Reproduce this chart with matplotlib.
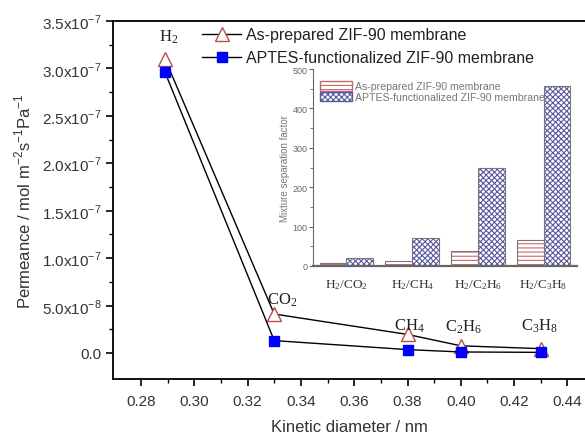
import matplotlib
matplotlib.use("Agg")
import matplotlib.pyplot as plt
from matplotlib.patches import Patch
import numpy as np

# main plot data: kinetic diameter (nm) vs permeance
gases = ["H_2", "CO_2", "CH_4", "C_2H_6", "C_3H_8"]
diameter = [0.289, 0.33, 0.38, 0.40, 0.43]
perm_asprep = [3.10e-7, 4.1e-8, 1.95e-8, 7.5e-9, 4.5e-9]
perm_aptes = [2.96e-7, 1.3e-8, 3.5e-9, 1.0e-9, 0.6e-9]
gas_label_xy = [(0.2905, 3.34e-7), (0.3329, 5.7e-8), (0.3807, 2.9e-8),
                (0.4009, 2.76e-8), (0.4295, 2.9e-8)]

y_ticks = [0.0, 5.0e-8, 1.0e-7, 1.5e-7, 2.0e-7, 2.5e-7, 3.0e-7, 3.5e-7]
y_ticklabels = ["0.0", r"5.0x10$^{\mathregular{-8}}$", r"1.0x10$^{\mathregular{-7}}$",
                r"1.5x10$^{\mathregular{-7}}$", r"2.0x10$^{\mathregular{-7}}$",
                r"2.5x10$^{\mathregular{-7}}$", r"3.0x10$^{\mathregular{-7}}$",
                r"3.5x10$^{\mathregular{-7}}$"]
x_ticks = [0.28, 0.30, 0.32, 0.34, 0.36, 0.38, 0.40, 0.42, 0.44]

# inset data: mixture separation factors
pairs = [r"$\mathregular{H_2/CO_2}$", r"$\mathregular{H_2/CH_4}$",
         r"$\mathregular{H_2/C_2H_6}$", r"$\mathregular{H_2/C_3H_8}$"]
sep_asprep = [7, 13, 38, 65]
sep_aptes = [20, 70, 250, 458]

plt.rcParams["font.family"] = ["Liberation Sans", "DejaVu Sans"]
plt.rcParams["hatch.linewidth"] = 0.8

fig = plt.figure(figsize=(5.85, 4.35), dpi=100)
ax = fig.add_axes([113 / 585, 55 / 435, 1 - 113 / 585, 358 / 435])

ax.plot(diameter, perm_asprep, color="black", lw=1.0, marker="^", ms=10,
        mfc="white", mec="#b5524a", mew=1.0, label="As-prepared ZIF-90 membrane", zorder=3)
ax.plot(diameter, perm_aptes, color="black", lw=1.0, marker="s", ms=7,
        mfc="#0000ff", mec="#0000ff", label="APTES-functionalized ZIF-90 membrane", zorder=3)

for g, (gx, gy) in zip(gases, gas_label_xy):
    ax.text(gx, gy, r"$\mathregular{" + g + "}$", family="Liberation Serif",
            fontsize=12, ha="center", va="center", color="#222222")

ax.set_xlim(0.2695, 0.4466)
ax.set_ylim(-2.75e-8, 3.5e-7)
ax.set_xticks(x_ticks)
ax.set_xticklabels(["%.2f" % t for t in x_ticks])
ax.set_yticks(y_ticks)
ax.set_yticklabels(y_ticklabels)
ax.set_xticks(np.array(x_ticks[:-1]) + 0.01, minor=True)
ax.set_yticks(np.array(y_ticks[:-1]) + 2.5e-8, minor=True)
ax.tick_params(which="major", direction="out", length=5, width=1.2,
               labelsize=11, labelcolor="#333333")
ax.tick_params(axis="x", which="major", pad=6)
ax.tick_params(which="minor", direction="out", length=3, width=1.0)
ax.spines["right"].set_visible(False)
for s in ["left", "bottom", "top"]:
    ax.spines[s].set_linewidth(1.3)
ax.set_xlabel("Kinetic diameter / nm", fontsize=12, color="#333333", labelpad=8)
ax.set_ylabel(r"Permeance / mol m$^{\mathregular{-2}}$s$^{\mathregular{-1}}$Pa$^{\mathregular{-1}}$",
              fontsize=12, color="#333333", labelpad=6)

ax.legend(loc="upper left", bbox_to_anchor=(196 / 585, 1 - 22 / 435),
          bbox_transform=fig.transFigure, frameon=False, fontsize=11.5,
          handlelength=2.4, handletextpad=0.3, labelspacing=0.5, borderaxespad=0,
          labelcolor="#222222")

# inset bar chart
ins = fig.add_axes([313 / 585, 168 / 435, 264 / 585, 197 / 435])
pos = np.arange(len(pairs))
w = 0.41
ins.bar(pos - w / 2, sep_asprep, w, color="white", edgecolor="#c46a6a",
        hatch="----", lw=0, zorder=2)
ins.bar(pos - w / 2, sep_asprep, w, fill=False, edgecolor="#777777", lw=0.8, zorder=3)
ins.bar(pos + w / 2, sep_aptes, w, color="white", edgecolor="#5a5aa0",
        hatch="xxxxxx", lw=0, zorder=2)
ins.bar(pos + w / 2, sep_aptes, w, fill=False, edgecolor="#777777", lw=0.8, zorder=3)

ins.set_xlim(-0.51, 3.51)
ins.set_ylim(0, 500)
ins.set_xticks(pos)
ins.set_xticklabels(pairs, family="Liberation Serif", fontsize=9.5, color="#333333")
ins.tick_params(axis="x", length=0, pad=8)
ins.set_yticks([0, 100, 200, 300, 400, 500])
ins.set_yticks([50, 150, 250, 350, 450], minor=True)
ins.tick_params(axis="y", which="major", direction="out", length=3, width=0.8,
                labelsize=6.5, labelcolor="#666666", color="#666666", pad=1)
ins.tick_params(axis="y", which="minor", direction="out", length=2, width=0.6,
                color="#666666")
ins.spines["top"].set_visible(False)
ins.spines["right"].set_visible(False)
ins.spines["left"].set_color("#666666")
ins.spines["bottom"].set_color("#666666")
ins.spines["bottom"].set_linewidth(1.6)
ins.set_ylabel("Mixture separation factor", fontsize=7, color="#777777", labelpad=2)
ins.patch.set_alpha(0)

h1 = Patch(facecolor="white", edgecolor="#c46a6a", hatch="----")
h2 = Patch(facecolor="white", edgecolor="#5a5aa0", hatch="xxxxxx")
ins.legend([h1, h2], ["As-prepared ZIF-90 membrane", "APTES-functionalized ZIF-90 membrane"],
           loc="upper left", bbox_to_anchor=(0.01, 0.96), frameon=False, fontsize=7.6,
           handlelength=3.0, handleheight=1.0, handletextpad=0.3, labelspacing=0.05,
           borderaxespad=0, labelcolor="#777777")

fig.savefig("out.png", dpi=100)
